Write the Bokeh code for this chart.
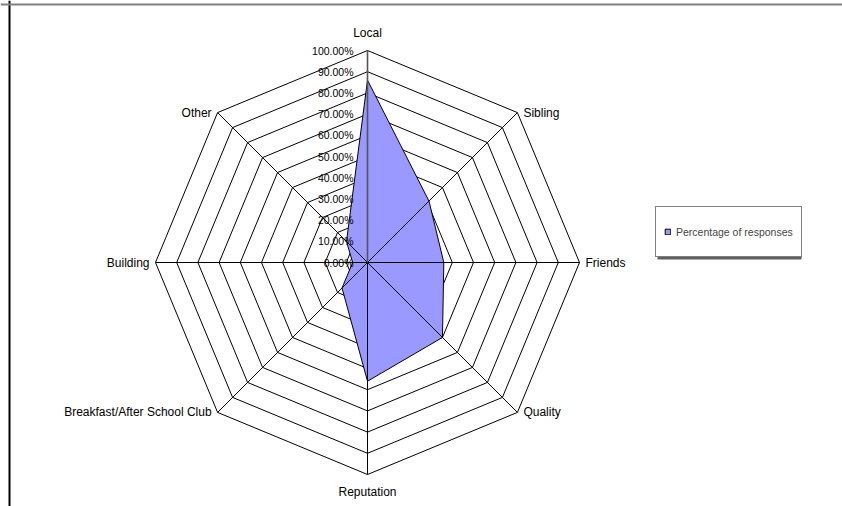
import math
from bokeh.plotting import figure
from bokeh.models import Range1d, Legend, LegendItem, ColumnDataSource, Span, BoxAnnotation
from bokeh.core.properties import value
from bokeh.embed import file_html
from bokeh.resources import INLINE

categories = ["Local", "Sibling", "Friends", "Quality", "Reputation",
              "Breakfast/After School Club", "Building", "Other"]
percentages = [0.86, 0.41, 0.36, 0.50, 0.56, 0.17, 0.07, 0.14]
ring_levels = [0.1, 0.2, 0.3, 0.4, 0.5, 0.6, 0.7, 0.8, 0.9, 1.0]
tick_levels = [0.0, 0.1, 0.2, 0.3, 0.4, 0.5, 0.6, 0.7, 0.8, 0.9, 1.0]
tick_labels = ["0.00%", "10.00%", "20.00%", "30.00%", "40.00%", "50.00%",
               "60.00%", "70.00%", "80.00%", "90.00%", "100.00%"]
series_name = "Percentage of responses"

W, H = 842, 506
R_PX = 212.0
CX, CY = 367.0, 262.0  # centre in figure pixels

FONT = "Liberation Sans"

p = figure(width=W, height=H, output_backend="svg", toolbar_location=None,
           x_range=Range1d(-CX / R_PX, (W - CX) / R_PX),
           y_range=Range1d(-(H - CY) / R_PX, CY / R_PX),
           x_axis_location=None, y_axis_location=None, min_border=0,
           match_aspect=False)
p.grid.visible = False
p.outline_line_color = None
p.background_fill_color = "white"
p.border_fill_color = "white"

n = len(categories)
angles = [math.pi / 2 - i * 2 * math.pi / n for i in range(n)]
cosv = [math.cos(a) for a in angles]
sinv = [math.sin(a) for a in angles]

# rings
for lvl in ring_levels:
    xs = [lvl * c for c in cosv] + [lvl * cosv[0]]
    ys = [lvl * s for s in sinv] + [lvl * sinv[0]]
    p.line(xs, ys, line_color="black", line_width=1)

# data polygon
px = [v * c for v, c in zip(percentages, cosv)]
py = [v * s for v, s in zip(percentages, sinv)]
poly = p.patch(px, py, fill_color="#9999FF", line_color="black", line_width=1)

# spokes
for i in range(1, n):
    p.line([0, cosv[i]], [0, sinv[i]], line_color="black", line_width=1)
p.line([0, cosv[0]], [0, sinv[0]], line_color="#555555", line_width=1.6)

# value tick labels on the Local axis
tsrc = ColumnDataSource(dict(x=[0.0] * len(tick_levels), y=tick_levels, t=tick_labels))
p.text(x="x", y="y", text="t", source=tsrc, text_align="right",
       text_baseline="middle", x_offset=-14, text_font=value(FONT),
       text_font_size="10.5px", text_color="black")

# category labels
lx, ly, al, bl, xo, yo = [], [], [], [], [], []
for c, s in zip(cosv, sinv):
    lx.append(c)
    ly.append(s)
    if abs(c) < 0.1:
        al.append("center")
        bl.append("bottom" if s > 0 else "top")
        xo.append(0)
        yo.append(-11 if s > 0 else 10)
    else:
        al.append("left" if c > 0 else "right")
        bl.append("middle")
        xo.append(6 if c > 0 else -6)
        yo.append(0)
csrc = ColumnDataSource(dict(x=lx, y=ly, t=categories, al=al, bl=bl, xo=xo, yo=yo))
p.text(x="x", y="y", text="t", source=csrc, text_align="al", text_baseline="bl",
       x_offset="xo", y_offset="yo", text_font=value(FONT),
       text_font_size="12px", text_color="black")

# chart border (left and top visible)
p.add_layout(Span(location=(9 - CX) / R_PX, dimension="height", line_color="black", line_width=2))
p.add_layout(Span(location=(CY - 4) / R_PX, dimension="width", line_color="#808080", line_width=2))

# legend shadow
p.add_layout(BoxAnnotation(left=(657 - CX) / R_PX, right=(801 - CX) / R_PX,
                           top=(CY - 210) / R_PX, bottom=(CY - 259) / R_PX,
                           fill_color="#606060", fill_alpha=1.0, line_color=None))

legend = Legend(items=[LegendItem(label=series_name, renderers=[poly])],
                location=(655, H - 257), orientation="vertical",
                glyph_width=7, glyph_height=7, label_standoff=5,
                padding=8, margin=0, label_height=33, spacing=0,
                label_text_font=FONT, label_text_font_size="10.5px",
                border_line_color="black", border_line_width=1,
                background_fill_color="white", background_fill_alpha=1.0)
p.add_layout(legend, "center")

open("out.html", "w").write(file_html(p, INLINE))
